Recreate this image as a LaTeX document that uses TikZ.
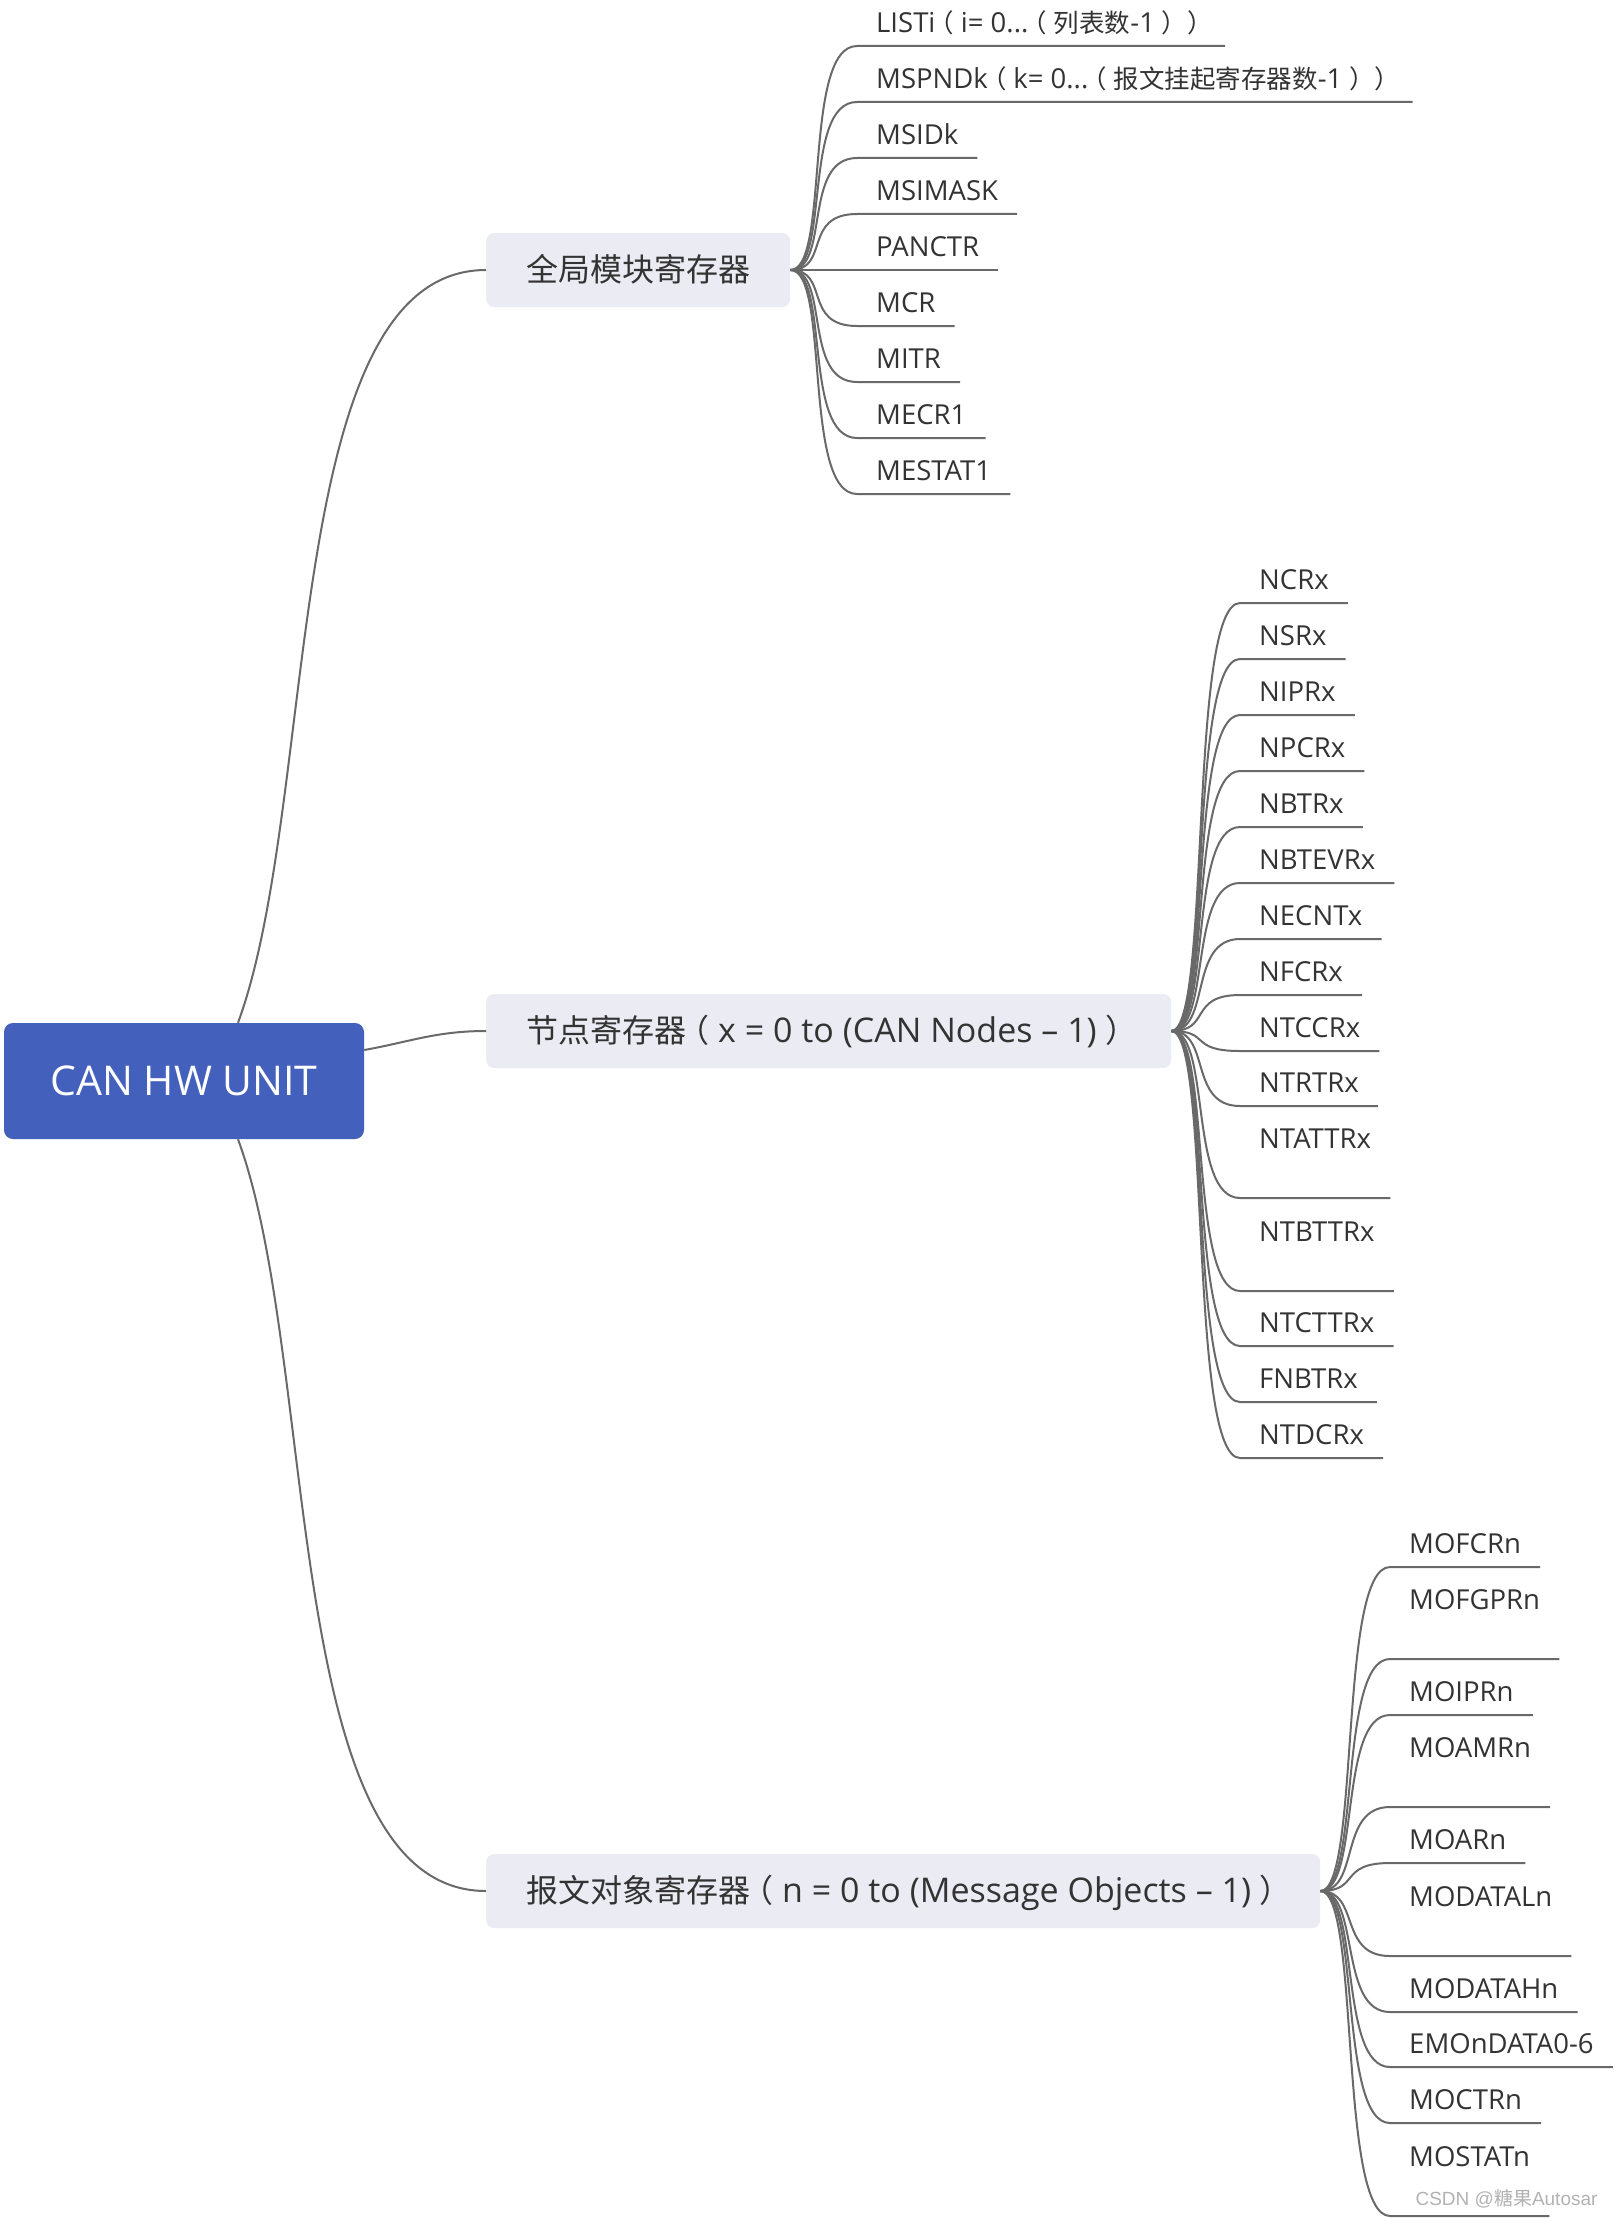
\documentclass[tikz,border=0pt]{standalone}
\usepackage{fontspec}
\setmainfont{Open Sans}
\newfontfamily\cjk{Noto Sans CJK SC}
\newfontfamily\wmfont{Liberation Sans}
\usetikzlibrary{calc}
\definecolor{rootblue}{RGB}{67,96,188}
\definecolor{branchfill}{RGB}{235,235,243}
\definecolor{linegray}{RGB}{105,105,105}
\definecolor{txt}{RGB}{51,51,51}
\newcommand\lcjk{\cjk\fontsize{25.5}{30}\selectfont}
\newcommand\blat{\fontsize{34}{40}\selectfont}
% full-width parentheses, glyph centred in its em box
\newcommand\opp{\hspace*{-0.27em}（\hspace*{0.27em}}
\newcommand\clp{\hspace*{0.27em}）\hspace*{-0.27em}}
\begin{document}
\begin{tikzpicture}[x=1pt,y=-1pt,
  conn/.style={draw=linegray, line width=2pt},
  rootbox/.style={fill=rootblue, rounded corners=9pt, minimum width=360pt, minimum height=116pt, text=white, font=\fontsize{41}{48}\selectfont, inner sep=0pt, text height=29pt, text depth=0pt},
  branchbox/.style={fill=branchfill, rounded corners=8pt, anchor=west, inner xsep=40pt, inner ysep=0pt, minimum height=74pt, text=txt, font=\fontsize{32}{38}\selectfont, text height=27pt, text depth=5pt},
  leaf/.style={anchor=south west, inner xsep=19pt, inner ysep=0pt, text height=21pt, text depth=13pt, text=txt, font=\fontsize{27.5}{33}\selectfont},
  tallleaf/.style={leaf, text depth=49pt},
]
\useasboundingbox (0,0) rectangle (1616,2218);
\fill[white] (0,0) rectangle (1616,2218);

% root and branches
\node[rootbox] (root) at (184,1081) {CAN HW UNIT};
\node[branchbox] (b1) at (486,270) {\cjk 全局模块寄存器};
\node[branchbox] (b2) at (486,1031) {\makebox[605pt][l]{{\cjk 节点寄存器\opp}{\blat x = 0 to (CAN Nodes – 1)}{\cjk \clp}}};
\node[branchbox] (b3) at (486,1891) {\makebox[754pt][l]{{\cjk 报文对象寄存器\opp}{\blat n = 0 to (Message Objects – 1)}{\cjk \clp}}};

\draw[conn] ($(root.north)+(54,0)$) .. controls +(82,-223) and +(-206,0) .. (b1.west);
\draw[conn] ($(root.east)+(0,-31)$) .. controls +(45,-8) and +(-50,0) .. (b2.west);
\draw[conn] ($(root.south)+(54,0)$) .. controls +(82,223) and +(-206,0) .. (b3.west);

% branch 1 leaves
\node[leaf] (a1) at (857,46) {LISTi{\lcjk \opp}i= 0...{\lcjk \opp 列表数}-1{\lcjk \clp\clp}};
\node[leaf] (a2) at (857,102) {MSPNDk{\lcjk \opp}k= 0...{\lcjk \opp 报文挂起寄存器数}-1{\lcjk \clp\clp}};
\node[leaf] (a3) at (857,158) {MSIDk};
\node[leaf] (a4) at (857,214) {MSIMASK};
\node[leaf] (a5) at (857,270) {PANCTR};
\node[leaf] (a6) at (857,326) {MCR};
\node[leaf] (a7) at (857,382) {MITR};
\node[leaf] (a8) at (857,438) {MECR1};
\node[leaf] (a9) at (857,494) {MESTAT1};
\foreach \n in {a1,a2,a3,a4,a5,a6,a7,a8,a9}
  \draw[conn] (b1.east) .. controls +(40,0) and +(-55,0) .. (\n.south west) -- (\n.south east);

% branch 2 leaves
\node[leaf] (c1) at (1240,603) {NCRx};
\node[leaf] (c2) at (1240,659) {NSRx};
\node[leaf] (c3) at (1240,715) {NIPRx};
\node[leaf] (c4) at (1240,771) {NPCRx};
\node[leaf] (c5) at (1240,827) {NBTRx};
\node[leaf] (c6) at (1240,883) {NBTEVRx};
\node[leaf] (c7) at (1240,939) {NECNTx};
\node[leaf] (c8) at (1240,995) {NFCRx};
\node[leaf] (c9) at (1240,1051) {NTCCRx};
\node[leaf] (c10) at (1240,1106) {NTRTRx};
\node[tallleaf] (c11) at (1240,1198) {NTATTRx};
\node[tallleaf] (c12) at (1240,1291) {NTBTTRx};
\node[leaf] (c13) at (1240,1346) {NTCTTRx};
\node[leaf] (c14) at (1240,1402) {FNBTRx};
\node[leaf] (c15) at (1240,1458) {NTDCRx};
\foreach \n in {c1,c2,c3,c4,c5,c6,c7,c8,c9,c10,c11,c12,c13,c14,c15}
  \draw[conn] (b2.east) .. controls +(40,0) and +(-52,0) .. (\n.south west) -- (\n.south east);

% branch 3 leaves
\node[leaf] (d1) at (1390,1567) {MOFCRn};
\node[tallleaf] (d2) at (1390,1659) {MOFGPRn};
\node[leaf] (d3) at (1390,1715) {MOIPRn};
\node[tallleaf] (d4) at (1390,1807) {MOAMRn};
\node[leaf] (d5) at (1390,1863) {MOARn};
\node[tallleaf] (d6) at (1390,1956) {MODATALn};
\node[leaf] (d7) at (1390,2012) {MODATAHn};
\node[leaf] (d8) at (1390,2067) {EMOnDATA0-6};
\node[leaf] (d9) at (1390,2123) {MOCTRn};
\node[tallleaf] (d10) at (1390,2216) {MOSTATn};
\foreach \n in {d1,d2,d3,d4,d5,d6,d7,d8,d9,d10}
  \draw[conn] (b3.east) .. controls +(40,0) and +(-52,0) .. (\n.south west) -- (\n.south east);

\node[anchor=base east, font=\wmfont\fontsize{19}{22}\selectfont, text=black!30] (wm) at (1601,2205) {CSDN @{\cjk 糖果}Autosar};
\end{tikzpicture}
\end{document}
